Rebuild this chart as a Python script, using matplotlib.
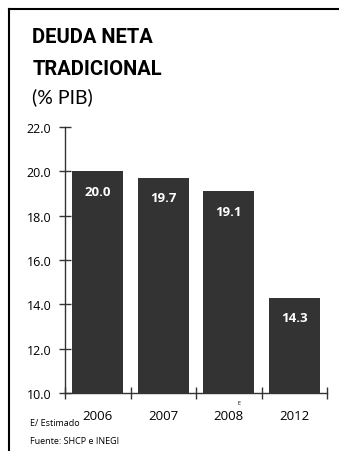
import matplotlib
matplotlib.use("Agg")
import matplotlib.pyplot as plt
from matplotlib.lines import Line2D

years = ["2006", "2007", "2008", "2012"]
values = [20.0, 19.7, 19.1, 14.3]
yticks = [10.0, 12.0, 14.0, 16.0, 18.0, 20.0, 22.0]

plt.rcParams['font.family'] = ['Open Sans', 'DejaVu Sans']

fig = plt.figure(figsize=(3.39, 4.52), dpi=100)
ax = fig.add_axes([0.192, 0.128, 0.773, 0.589])

x = list(range(len(years)))
ax.bar(x, values, width=0.78, color="#333333", bottom=0)
ax.set_ylim(10, 22)
ax.set_xlim(-0.5, len(years) - 0.5)

for xi, v in zip(x, values):
    ax.text(xi, v - 0.9, f"{v:.1f}", ha="center", va="center", color="white",
            fontsize=9.5, fontweight="bold")

ax.set_yticks(yticks)
ax.set_yticklabels([f"{t:.1f}" for t in yticks], fontsize=9)
ax.set_xticks(x)
ax.set_xticklabels(years, fontsize=9.5)
ax.tick_params(axis="x", length=0, pad=11.5)
ax.set_xticks([i - 0.5 for i in range(len(years) + 1)], minor=True)
ax.tick_params(axis="x", which="minor", direction="inout", length=8, width=1, color="#333333")
ax.tick_params(axis="y", direction="inout", length=8, width=1, color="#333333", pad=6)
for s in ["top", "right"]:
    ax.spines[s].set_visible(False)
for s in ["left", "bottom"]:
    ax.spines[s].set_color("#333333")
    ax.spines[s].set_linewidth(1)

ax.annotate("E", xy=(2.16, 10), xycoords="data", xytext=(0, -7),
            textcoords="offset points", fontsize=4, ha="center", va="center")

title_font = ["Roboto", "DejaVu Sans"]
fig.text(0.095, 0.916, "DEUDA NETA", fontsize=14.5, fontweight="bold", va="center",
         family=title_font)
fig.text(0.095, 0.847, "TRADICIONAL", fontsize=14.5, fontweight="bold", va="center",
         family=title_font)
fig.text(0.095, 0.785, "(% PIB)", fontsize=14, va="center",
         family=["Lato", "DejaVu Sans"])
fig.text(0.088, 0.064, "E/ Estimado", fontsize=6.5, va="center")
fig.text(0.088, 0.024, "Fuente: SHCP e INEGI", fontsize=6.5, va="center")

fig.add_artist(Line2D([0.027, 1.0], [0.978, 0.978], color="black", lw=1.5,
                      transform=fig.transFigure))
fig.add_artist(Line2D([0.027, 0.027], [0.0, 0.978], color="black", lw=1.5,
                      transform=fig.transFigure))

fig.savefig("out.png", dpi=100)
